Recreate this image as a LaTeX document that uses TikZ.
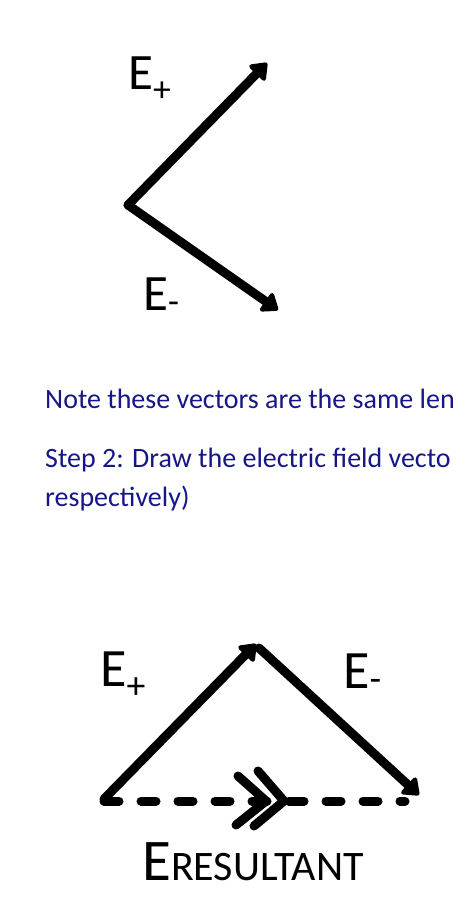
\documentclass[tikz,border=0pt]{standalone}
\usepackage{fontspec}
\setmainfont{Carlito}
\usetikzlibrary{arrows.meta}
\definecolor{notecol}{RGB}{22,22,135}

\begin{document}
\begin{tikzpicture}[x=1pt,y=-1pt,
    vec/.style={line width=9pt, line cap=round, line join=round,
      -{Triangle[length=17pt,width=25pt,round]}},
    dashvec/.style={line width=9pt, line cap=round, dash pattern=on 15pt off 22pt},
    chev/.style={line width=9pt, line cap=round, line join=round},
    lbl/.style={anchor=base west, inner sep=0pt, font=\fontsize{51}{56}\selectfont},
    note/.style={anchor=base west, inner sep=0pt, text=notecol, font=\fontsize{28}{34}\selectfont}
  ]
    \useasboundingbox (0,0) rectangle (466,904);
    \clip (0,0) rectangle (466,904);
    % step 1: the two field vectors from one point
    \coordinate (v1) at (128,205);
    \coordinate (p1) at (267,63);
    \coordinate (m1) at (278,310);
    \draw [vec] (v1) -- (p1);
    \draw [vec] (v1) -- (m1);
    \node (lp1) [lbl] at (128,90) {E\textsubscript{+}};
    \node (lm1) [lbl] at (143,310) {E\textsubscript{-}};
    % notes
    \node (n1) [note] at (45,408) {Note these vectors are the same len};
    \node (n2) [note] at (45,467) {Step 2: Draw the electric field vecto};
    \node (n3) [note] at (45,506) {respectively)};
    % step 2: head to tail
    \coordinate (v2) at (104,799);
    \coordinate (a2) at (256,644);
    \coordinate (b2) at (259,648);
    \coordinate (m2) at (419,795);
    \coordinate (r2) at (405,801);
    \draw [dashvec] (v2 |- r2) -- (r2);
    \draw [vec] (v2) -- (a2);
    \draw [vec] (b2) -- (m2);
    \draw [chev] (238,776) -- (266,801) -- (236,825);
    \draw [chev] (258,771) -- (284,801) -- (254,826);
    \node (lp2) [lbl, font=\fontsize{54}{58}\selectfont] at (100,686) {E\textsubscript{+}};
    \node (lm2) [lbl, font=\fontsize{54}{58}\selectfont] at (343,688) {E\textsubscript{-}};
    \node (lr2) [lbl, font=\fontsize{59}{62}\selectfont] at (142,880)
      {E{\fontsize{42}{44}\selectfont RESULTANT}};
  \end{tikzpicture}
\end{document}
